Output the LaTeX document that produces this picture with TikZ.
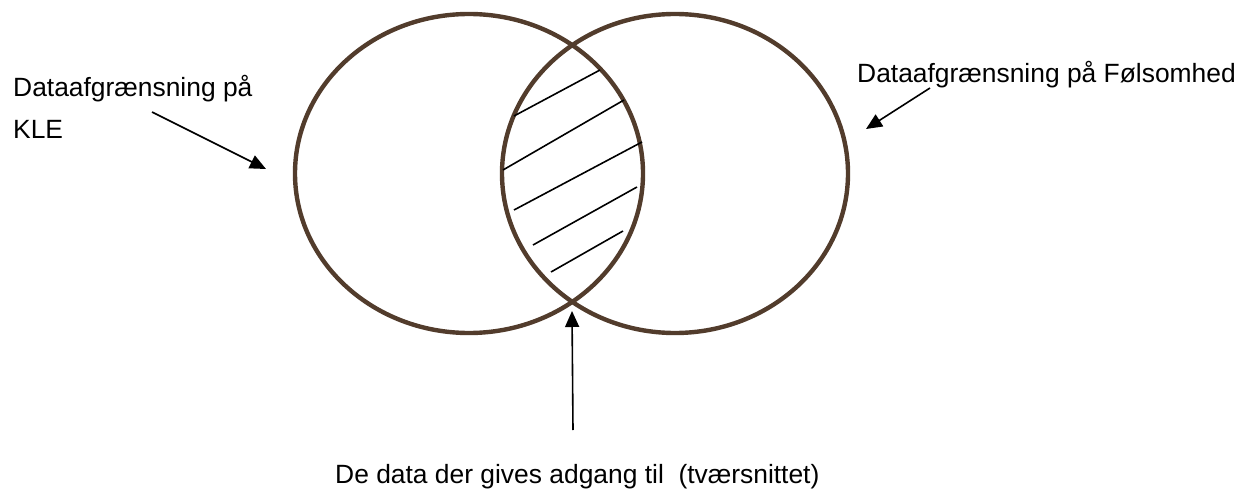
\documentclass[tikz,border=0pt]{standalone}
\usepackage{fontspec}
\setmainfont{Liberation Sans}
\usetikzlibrary{arrows.meta}
\definecolor{ringbrown}{RGB}{82,60,44}
\tikzset{
  ring/.style={draw=ringbrown, line width=4.4pt},
  hatch/.style={draw=black, line width=1.6pt},
  pointer/.style={draw=black, line width=1.6pt, -{Triangle[length=16pt,width=14pt]}},
  lbl/.style={inner sep=0pt, anchor=base west, font=\fontsize{26.4}{43}\selectfont}
}
\begin{document}
\begin{tikzpicture}[x=1pt,y=-1pt]
\useasboundingbox (0,0) rectangle (1251,492);
% circles
\draw[ring] (469,173.5) ellipse [x radius=174, y radius=159.5];
\draw[ring] (675,173.5) ellipse [x radius=173, y radius=159.5];
% hatching
\draw[hatch] (514,116) -- (600,70);
\draw[hatch] (503,170) -- (624,100);
\draw[hatch] (514,210) -- (642,142);
\draw[hatch] (533,245) -- (637,187);
\draw[hatch] (551,272) -- (623,231);
% labels
\node[lbl] (kle1) at (13,97) {Dataafgrænsning på};
\node[lbl] (kle2) at (13,139) {KLE};
\node[lbl] (fols) at (857,83) {Dataafgrænsning på Følsomhed};
\node[lbl] (cross) at (335,483) {De data der gives adgang til\ \ (tværsnittet)};
% arrow endpoints
\coordinate (a1s) at (152,112);
\coordinate (a1e) at (266,169);
\coordinate (a2s) at (930,88);
\coordinate (a2e) at (866,129);
\coordinate (a3s) at (573,430);
\coordinate (a3e) at (572,311);
\draw[pointer] (a1s) -- (a1e);
\draw[pointer] (a2s) -- (a2e);
\draw[pointer] (a3s) -- (a3e);
\end{tikzpicture}
\end{document}
